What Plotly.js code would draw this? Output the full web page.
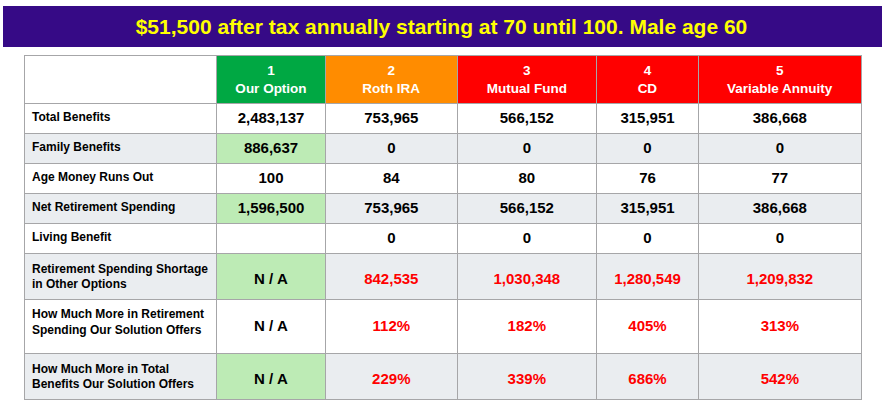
<!DOCTYPE html>
<html><head><meta charset="utf-8">
<script src="https://cdn.plot.ly/plotly-3.0.1.min.js"></script>
<style>html,body{margin:0;padding:0;background:#fff}#chart{width:889px;height:407px}</style>
</head><body><div id="chart"></div>
<script>
// ---- data ----
const titleText = "$51,500 after tax annually starting at 70 until 100. Male age 60";
const optionNumbers = [1, 2, 3, 4, 5];
const optionNames = ["Our Option", "Roth IRA", "Mutual Fund", "CD", "Variable Annuity"];
const rowLabels = [
  "Total Benefits",
  "Family Benefits",
  "Age Money Runs Out",
  "Net Retirement Spending",
  "Living Benefit",
  "Retirement Spending Shortage<br>in Other Options",
  "How Much More in Retirement<br>Spending Our Solution Offers",
  "How Much More in Total<br>Benefits Our Solution Offers"
];
const totalBenefits = [2483137, 753965, 566152, 315951, 386668];
const familyBenefits = [886637, 0, 0, 0, 0];
const ageMoneyRunsOut = [100, 84, 80, 76, 77];
const netRetirementSpending = [1596500, 753965, 566152, 315951, 386668];
const livingBenefit = [null, 0, 0, 0, 0];
const spendingShortage = [null, 842535, 1030348, 1280549, 1209832];
const moreRetirementPct = [null, 112, 182, 405, 313];
const moreTotalPct = [null, 229, 339, 686, 542];

// ---- styling (not data) ----
const FONT = "Liberation Sans, Arial, sans-serif";
const HEADER_SIZE = 13.5;
const VALUE_SIZE = 15;
const LABEL_SIZE = 12;
// per row: size of a small leading line that drops the value to mid-row in 2-line rows
// (0 = plain single-line cell); tallRow adds a hair-thin trailing line to stretch that row
const spacerSize = [0, 0, 0, 0, 0, 10, 11, 10];
const tallRow = [false, false, false, false, false, false, true, false];

const num = v => v === null ? "" : v.toLocaleString("en-US");
const naNum = v => v === null ? "N / A" : v.toLocaleString("en-US");
const naPct = v => v === null ? "N / A" : v + "%";
function place(s, r) {
  if (!spacerSize[r] || s === "") return s;
  let t = "\u00A0<br><span style=\"font-size:" + VALUE_SIZE + "px\">" + s + "</span>";
  if (tallRow[r]) t += "<br><span style=\"font-size:1px\">\u00A0</span>";
  return t;
}

// centre each line of a multi-line header cell (table centres the block only)
const ctx = document.createElement("canvas").getContext("2d");
function centredLines(lines, size) {
  ctx.font = "bold " + size + "px 'Liberation Sans'";
  const widths = lines.map(t => ctx.measureText(t).width);
  const maxW = Math.max(...widths);
  const nb = ctx.measureText("\u00A0").width;
  return lines.map((t, i) => {
    const off = (maxW - widths[i]) / 2;
    if (off < 0.5) return t;
    const n = Math.floor(off / nb);
    const rem = off - n * nb;
    let pad = "\u00A0".repeat(n);
    if (rem > 0.3) pad += '<span style="font-size:' + (size * rem / nb).toFixed(2) + 'px">\u00A0</span>';
    return pad + t;
  }).join("<br>");
}

// ---- build table ----
const optionCols = optionNumbers.map((n, i) => [
  num(totalBenefits[i]),
  num(familyBenefits[i]),
  num(ageMoneyRunsOut[i]),
  num(netRetirementSpending[i]),
  num(livingBenefit[i]),
  naNum(spendingShortage[i]),
  naPct(moreRetirementPct[i]),
  naPct(moreTotalPct[i])
].map(place));

const WHITE = "#ffffff", GRAY = "#eaedf0", LGREEN = "#bdebb5";
const nRows = rowLabels.length;
const stripe = Array.from({length: nRows}, (_, r) => r % 2 ? GRAY : WHITE);
const ourStripe = Array.from({length: nRows}, (_, r) => r % 2 ? LGREEN : WHITE);
const fills = [stripe, ourStripe, stripe, stripe, stripe, stripe];
const black = Array(nRows).fill("#000000");
const other = Array.from({length: nRows}, (_, r) => r >= 5 ? "#ff0000" : "#000000");
const fontColors = [black, black, other, other, other, other];
const valueSizes = spacerSize.map(s => s || VALUE_SIZE);
const fontSizes = [Array(nRows).fill(LABEL_SIZE), valueSizes, valueSizes, valueSizes, valueSizes, valueSizes];

const headerVals = ["", ...optionNumbers.map((n, i) => centredLines([String(n), optionNames[i]], HEADER_SIZE))];
const headerFills = ["#ffffff", "#00a843", "#ff8c00", "#ff0000", "#ff0000", "#ff0000"];

const W = 889, H = 407;
const lineColor = "#a6a6a8";

const trace = {
  type: "table",
  domain: {x: [24 / W, 861 / W], y: [0, 1 - 55 / H]},
  columnwidth: [192.7, 108.6, 132, 139, 102.4, 162.3],
  header: {
    values: headerVals,
    align: "center",
    height: 48,
    fill: {color: headerFills},
    line: {color: lineColor, width: 1},
    font: {family: FONT, size: HEADER_SIZE, color: "#ffffff", weight: "bold"}
  },
  cells: {
    values: [rowLabels, ...optionCols],
    align: ["left", "center", "center", "center", "center", "center"],
    height: 30,
    fill: {color: fills},
    line: {color: lineColor, width: 1},
    font: {family: FONT, size: fontSizes, color: fontColors, weight: "bold"}
  }
};

const layout = {
  width: W, height: H,
  margin: {l: 0, r: 0, t: 0, b: 0},
  paper_bgcolor: "#ffffff",
  title: {
    text: "<b>" + titleText + "</b>",
    font: {family: FONT, size: 21, color: "#ffff00"},
    xref: "container", yref: "container",
    x: 441.5 / W, xanchor: "center",
    y: 1 - 26.5 / H, yanchor: "middle"
  },
  shapes: [{
    type: "rect", xref: "paper", yref: "paper", layer: "below",
    x0: 3 / W, x1: 882 / W, y0: 1 - 47 / H, y1: 1 - 6 / H,
    fillcolor: "#360a86", line: {width: 0}
  }]
};

Plotly.newPlot("chart", [trace], layout, {displayModeBar: false, staticPlot: true});
</script>
</body></html>
